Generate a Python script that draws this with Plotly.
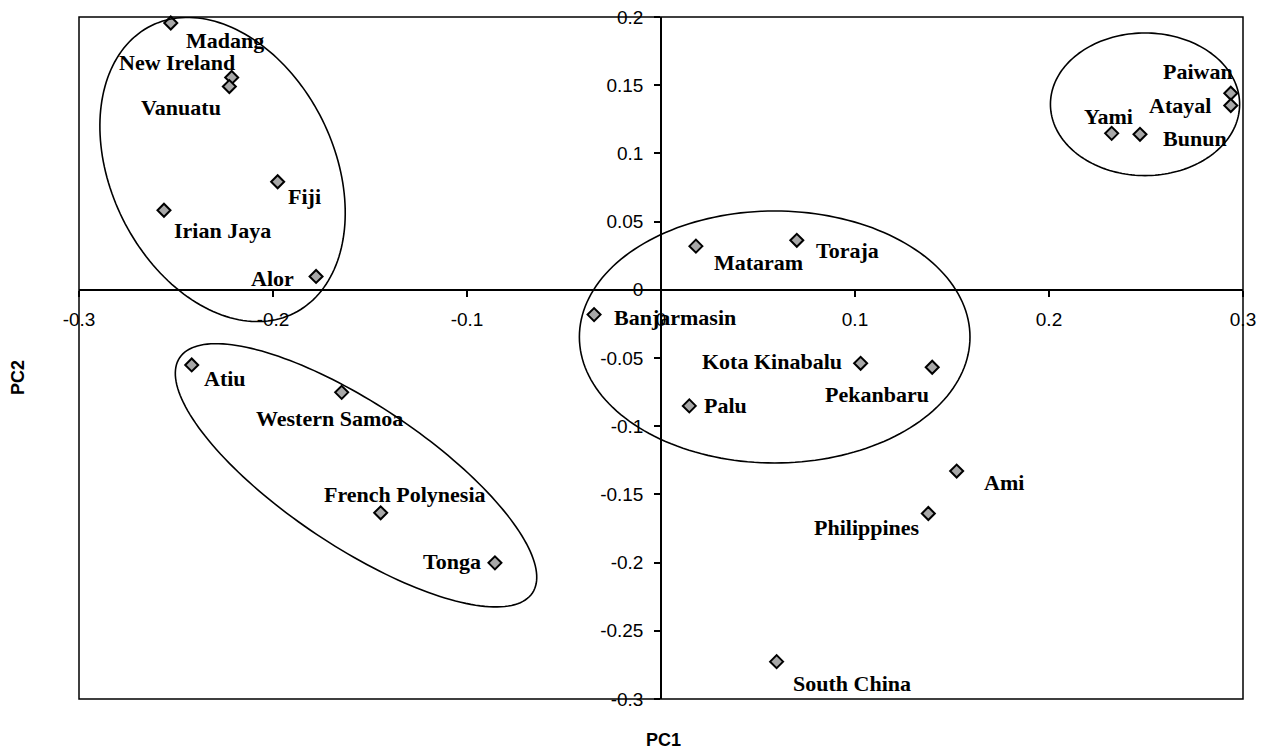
import numpy as np
import plotly.graph_objects as go

# ---------------- data ----------------
populations = ["Madang", "New Ireland", "Vanuatu", "Fiji", "Irian Jaya", "Alor",
               "Atiu", "Western Samoa", "French Polynesia", "Tonga",
               "Banjarmasin", "Mataram", "Toraja", "Kota Kinabalu", "Pekanbaru", "Palu",
               "Ami", "Philippines", "South China",
               "Yami", "Bunun", "Paiwan", "Atayal"]
pc1 = [-0.2527, -0.2213, -0.2225, -0.1976, -0.2562, -0.1778,
       -0.2419, -0.1646, -0.1445, -0.0856,
       -0.0345, 0.0180, 0.0700, 0.1029, 0.1398, 0.0146,
       0.1524, 0.1378, 0.0596,
       0.2323, 0.2469, 0.2937, 0.2937]
pc2 = [0.1956, 0.1557, 0.1490, 0.0792, 0.0583, 0.0098,
       -0.0551, -0.0752, -0.1635, -0.2002,
       -0.0182, 0.0320, 0.0363, -0.0539, -0.0568, -0.0851,
       -0.1329, -0.1640, -0.2726,
       0.1147, 0.1140, 0.1441, 0.1351]

x_tick_vals = [-0.3, -0.2, -0.1, 0.0, 0.1, 0.2, 0.3]
x_tick_text = ["-0.3", "-0.2", "-0.1", "0", "0.1", "0.2", "0.3"]
y_tick_vals = [0.2, 0.15, 0.1, 0.05, 0.0, -0.05, -0.1, -0.15, -0.2, -0.25, -0.3]
y_tick_text = ["0.2", "0.15", "0.1", "0.05", "0", "-0.05", "-0.1", "-0.15", "-0.2", "-0.25", "-0.3"]

# cluster outlines: centre (data units)
ellipse_cx = [-0.2260, -0.1572, 0.0586, 0.2495]
ellipse_cy = [0.0882, -0.1360, -0.0346, 0.1360]

# ---------------- styling / layout ----------------
W, H = 1261, 751
ML, MR, MT, MB = 79, 18, 17, 52
XR = [-0.3, 0.3]
YR = [-0.3, 0.2]
pw, ph = W - ML - MR, H - MT - MB
sx = pw / (XR[1] - XR[0])
sy = ph / (YR[1] - YR[0])

# semi-axes (px) and tilt (deg, screen, clockwise)
ellipse_a = [160.5, 212, 195.3, 94.6]
ellipse_b = [111.4, 71, 126, 71.3]
ellipse_phi = [63.6, 33.7, 0, 0]

label_place = {
    "Madang": ("left", 14.3, 18.3),
    "New Ireland": ("right", 4, -14.7),
    "Vanuatu": ("right", -7, 21.3),
    "Fiji": ("left", 9, 15.4),
    "Irian Jaya": ("left", 9.3, 20.3),
    "Alor": ("right", -21, 2.6),
    "Atiu": ("left", 11.6, 14.3),
    "Western Samoa": ("left", -86.7, 27),
    "French Polynesia": ("left", -58, -18),
    "Tonga": ("right", -13.3, -1.3),
    "Banjarmasin": ("left", 18.7, 3.3),
    "Mataram": ("left", 17.3, 16.7),
    "Toraja": ("left", 18.3, 11.1),
    "Kota Kinabalu": ("right", -17.4, -1.1),
    "Pekanbaru": ("right", -2.3, 27.4),
    "Palu": ("left", 13.4, 0.6),
    "Ami": ("left", 26, 12),
    "Philippines": ("right", -7.6, 14),
    "South China": ("left", 15.6, 22.5),
    "Yami": ("left", -28.4, -16.3),
    "Bunun": ("left", 21.7, 4.3),
    "Paiwan": ("left", -69, -20.8),
    "Atayal": ("right", -19, 0.2),
}

fig = go.Figure()
fig.add_trace(go.Scatter(
    x=pc1, y=pc2, mode="markers", text=populations, hoverinfo="text+x+y",
    marker=dict(symbol="diamond", size=10, color="#a8a8a8",
                line=dict(color="black", width=2)),
    showlegend=False, cliponaxis=False,
))

label_font = dict(family="Liberation Serif, Times New Roman, serif", size=22, color="black")
annotations = []
for name, xv, yv in zip(populations, pc1, pc2):
    anc, dx, dy = label_place[name]
    annotations.append(dict(
        x=xv, y=yv, xref="x", yref="y", text="<b>%s</b>" % name, showarrow=False,
        xanchor=anc, yanchor="middle", xshift=dx, yshift=-dy + 0.5, borderpad=0,
        font=label_font,
    ))

axis_title_font = dict(family="Liberation Sans, Arial, sans-serif", size=18, color="black")
annotations.append(dict(x=(663.5 - ML) / pw, y=(H - MB - 740) / ph, xref="paper", yref="paper",
                        text="<b>PC1</b>", showarrow=False, xanchor="center", yanchor="middle",
                        font=axis_title_font))
annotations.append(dict(x=(18 - ML) / pw, y=(H - MB - 378) / ph, xref="paper", yref="paper",
                        text="<b>PC2</b>", showarrow=False, xanchor="center", yanchor="middle",
                        textangle=-90, font=axis_title_font))

shapes = [dict(type="rect", xref="paper", yref="paper", x0=0, x1=1, y0=0, y1=1,
               line=dict(color="black", width=1.5), layer="above")]
t = np.linspace(0, 2 * np.pi, 181)
for cx, cy, a, b, phi in zip(ellipse_cx, ellipse_cy, ellipse_a, ellipse_b, ellipse_phi):
    p = np.radians(phi)
    u = a * np.cos(t) * np.cos(p) - b * np.sin(t) * np.sin(p)   # screen px, right
    v = a * np.cos(t) * np.sin(p) + b * np.sin(t) * np.cos(p)   # screen px, down
    xs = cx + u / sx
    ys = cy - v / sy
    path = "M " + " L ".join("%.5f,%.5f" % (xx, yy) for xx, yy in zip(xs, ys)) + " Z"
    shapes.append(dict(type="path", path=path, xref="x", yref="y",
                       line=dict(color="black", width=1.6), layer="above"))

tick_font = dict(family="Liberation Sans, Arial, sans-serif", size=19, color="black")
fig.update_layout(
    width=W, height=H, autosize=False,
    margin=dict(l=ML, r=MR, t=MT, b=MB, autoexpand=False),
    paper_bgcolor="white", plot_bgcolor="white",
    showlegend=False,
    annotations=annotations,
    shapes=shapes,
    xaxis=dict(range=XR, anchor="free", position=(0 - YR[0]) / (YR[1] - YR[0]),
               automargin=False,
               showgrid=False, zeroline=False, showline=True, linecolor="black", linewidth=1.5,
               ticks="outside", ticklen=6, tickcolor="black", tickwidth=1.5,
               tickvals=x_tick_vals, ticktext=x_tick_text, tickfont=tick_font,
               ticklabelstandoff=7),
    yaxis=dict(range=YR, anchor="free", position=(0 - XR[0]) / (XR[1] - XR[0]),
               automargin=False,
               showgrid=False, zeroline=False, showline=True, linecolor="black", linewidth=1.5,
               ticks="outside", ticklen=6, tickcolor="black", tickwidth=1.5,
               tickvals=y_tick_vals, ticktext=y_tick_text, tickfont=tick_font,
               ticklabelstandoff=7),
)

fig.write_html("out.html", config={"displayModeBar": False})

# remove the browser's default page margin so the figure fills the window exactly
with open("out.html", "r", encoding="utf-8") as f:
    html = f.read()
html = html.replace("<head>", "<head><style>html,body{margin:0;padding:0;overflow:hidden;}</style>", 1)
with open("out.html", "w", encoding="utf-8") as f:
    f.write(html)
